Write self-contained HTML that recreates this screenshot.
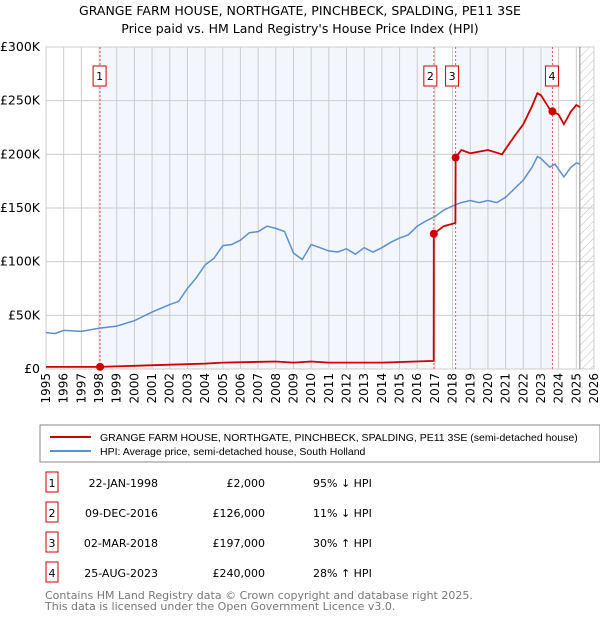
<!DOCTYPE html>
<html><head><meta charset="utf-8"><style>
body{margin:0;background:#fff;font-family:"Liberation Sans","DejaVu Sans",sans-serif;}
svg text{font-family:"DejaVu Sans","Liberation Sans",sans-serif;}
svg text.lg{font-family:"Liberation Sans","DejaVu Sans",sans-serif;}
</style></head><body>
<svg id="c" width="600" height="620" xmlns="http://www.w3.org/2000/svg">
<defs><pattern id="hatch" width="6" height="6" patternUnits="userSpaceOnUse" patternTransform="rotate(45)"><line x1="0" y1="0" x2="0" y2="6" stroke="#bbb" stroke-width="1"/></pattern></defs>
<text x="300" y="15" text-anchor="middle" font-size="12.5">GRANGE FARM HOUSE, NORTHGATE, PINCHBECK, SPALDING, PE11 3SE</text>
<text x="300" y="33" text-anchor="middle" font-size="12.5">Price paid vs. HM Land Registry's House Price Index (HPI)</text>
<g id="plot"></g>
<rect x="40" y="425" width="560" height="37" fill="#fff" stroke="#888"/>
<line x1="50" y1="437" x2="91" y2="437" stroke="#cc0000" stroke-width="2"/>
<text class="lg" x="100" y="441" font-size="10.5">GRANGE FARM HOUSE, NORTHGATE, PINCHBECK, SPALDING, PE11 3SE (semi-detached house)</text>
<line x1="50" y1="451" x2="91" y2="451" stroke="#5b8fd0" stroke-width="2"/>
<text class="lg" x="100" y="455" font-size="10.5">HPI: Average price, semi-detached house, South Holland</text>
<g id="table" font-size="11"></g>
<text x="45" y="599" font-size="11" fill="#777">Contains HM Land Registry data © Crown copyright and database right 2025.</text>
<text x="45" y="610" font-size="11" fill="#777">This data is licensed under the Open Government Licence v3.0.</text>
</svg>
<script>
const hpiYears=[1995,1995.5,1996,1997,1998,1999,2000,2001,2002,2002.5,2003,2003.5,2004,2004.5,2005,2005.5,2006,2006.5,2007,2007.5,2008,2008.5,2009,2009.5,2010,2010.5,2011,2011.5,2012,2012.5,2013,2013.5,2014,2014.5,2015,2015.5,2016,2016.5,2017,2017.5,2018,2018.5,2019,2019.5,2020,2020.5,2021,2021.5,2022,2022.5,2022.8,2023,2023.5,2023.8,2024,2024.3,2024.7,2025,2025.2];
const hpiValues=[34,33,36,35,38,40,45,53,60,63,75,85,97,103,115,116,120,127,128,133,131,128,108,102,116,113,110,109,112,107,113,109,113,118,122,125,133,138,142,148,152,155,157,155,157,155,160,168,176,188,198,196,188,191,186,179,188,192,191];
const priceYears=[1995,1998,2000,2002,2004,2005,2008,2009,2010,2011,2014,2016.93,2016.94,2017.5,2018.16,2018.17,2018.5,2019,2020,2020.8,2021,2021.5,2022,2022.5,2022.8,2023,2023.5,2023.65,2024,2024.3,2024.7,2025,2025.2];
const priceValues=[2,2,3,4,5,6,7,6,7,6,6,7.5,126,133,136,197,204,201,204,200,205,217,228,245,257,255,242,240,237,228,240,246,244];
const saleYears=[1998.06,2016.94,2018.17,2023.65];
const saleValues=[2,126,197,240];
const saleLabels=["1","2","3","4"];
const saleDates=["22-JAN-1998","09-DEC-2016","02-MAR-2018","25-AUG-2023"];
const salePrices=["£2,000","£126,000","£197,000","£240,000"];
const saleHpi=["95% ↓ HPI","11% ↓ HPI","30% ↑ HPI","28% ↑ HPI"];
const yTicks=[0,50,100,150,200,250,300];
const yTickLabels=["£0","£50K","£100K","£150K","£200K","£250K","£300K"];
const NS="http://www.w3.org/2000/svg";
const X0=46,X1=594,Y0=369,Y1=47;
const x=v=>X0+(v-1995)/(2026-1995)*(X1-X0);
const y=v=>Y0-v/300*(Y0-Y1);
const plot=document.getElementById('plot');
function mk(t,a,p){const e=document.createElementNS(NS,t);for(const k in a)e.setAttribute(k,a[k]);(p||plot).appendChild(e);return e;}
let e;
e=mk('rect',{x:X0,y:Y1,width:X1-X0,height:Y0-Y1,fill:'#fff',stroke:'#ccc'});


const bands=[[saleYears[0],saleYears[1]],[saleYears[2],saleYears[3]]];
bands.forEach(b=>{e=mk('rect',{x:x(b[0]),y:Y1,width:x(b[1])-x(b[0]),height:Y0-Y1,fill:'#f3f6fd'});

});
e=mk('rect',{x:x(2025.2),y:Y1,width:X1-x(2025.2),height:Y0-Y1,fill:'url(#hatch)'});


for(let yr=1995;yr<=2026;yr++){
 e=mk('line',{x1:x(yr),x2:x(yr),y1:Y1,y2:Y0,stroke:'#ccc','stroke-width':1});
 
 
 e=mk('text',{x:0,y:0,'font-size':12,'text-anchor':'end',transform:`translate(${x(yr)+4},${Y0+4}) rotate(-90)`});
 e.textContent=yr;
 
 
}
yTicks.forEach((t,i)=>{
 e=mk('line',{x1:X0,x2:X1,y1:y(t),y2:y(t),stroke:'#ccc'});
 
 
 e=mk('text',{x:X0-6,y:y(t)+4,'font-size':12.5,'text-anchor':'end'});
 e.textContent=yTickLabels[i];
 
 
});
e=mk('line',{x1:x(2025.2),x2:x(2025.2),y1:Y1,y2:Y0,stroke:'#888'});


saleYears.forEach((s,i)=>{
 e=mk('line',{x1:x(s),x2:x(s),y1:Y1,y2:Y0,stroke:'#e55','stroke-dasharray':'2,2'});
 
 
});
const pts=(xs,vs)=>xs.map((v,i)=>x(v).toFixed(1)+','+y(vs[i]).toFixed(1)).join(' ');
e=mk('polyline',{points:pts(hpiYears,hpiValues),fill:'none',stroke:'#5b8fd0','stroke-width':1.5});


e=mk('polyline',{points:pts(priceYears,priceValues),fill:'none',stroke:'#cc0000','stroke-width':1.8});


saleYears.forEach((s,i)=>{
 e=mk('circle',{cx:x(s),cy:y(saleValues[i]),r:4,fill:'#cc0000'});
 
 
 const lx=x(s)-(i==0||i==3?0:3);
 e=mk('rect',{x:lx-7,y:66,width:13,height:20,fill:'#fff',stroke:'#cc0000'});
 
 
 e=mk('text',{x:lx-0.5,y:80,'font-size':11,'text-anchor':'middle'});
 e.textContent=saleLabels[i];
 
 
});
const tb=document.getElementById('table');
saleYears.forEach((s,i)=>{
 const ry=483+i*30;
 e=mk('rect',{x:46,y:ry-11,width:12,height:20,fill:'#fff',stroke:'#cc0000'},tb);
 
 
 e=mk('text',{x:52,y:ry+4,'text-anchor':'middle'},tb);e.textContent=saleLabels[i];
 
 
 e=mk('text',{x:158,y:ry+4,'text-anchor':'end'},tb);e.textContent=saleDates[i];
 
 
 e=mk('text',{x:265,y:ry+4,'text-anchor':'end'},tb);e.textContent=salePrices[i];
 
 
 e=mk('text',{x:313,y:ry+4},tb);e.textContent=saleHpi[i];
 
 
});
</script>
</body></html>
